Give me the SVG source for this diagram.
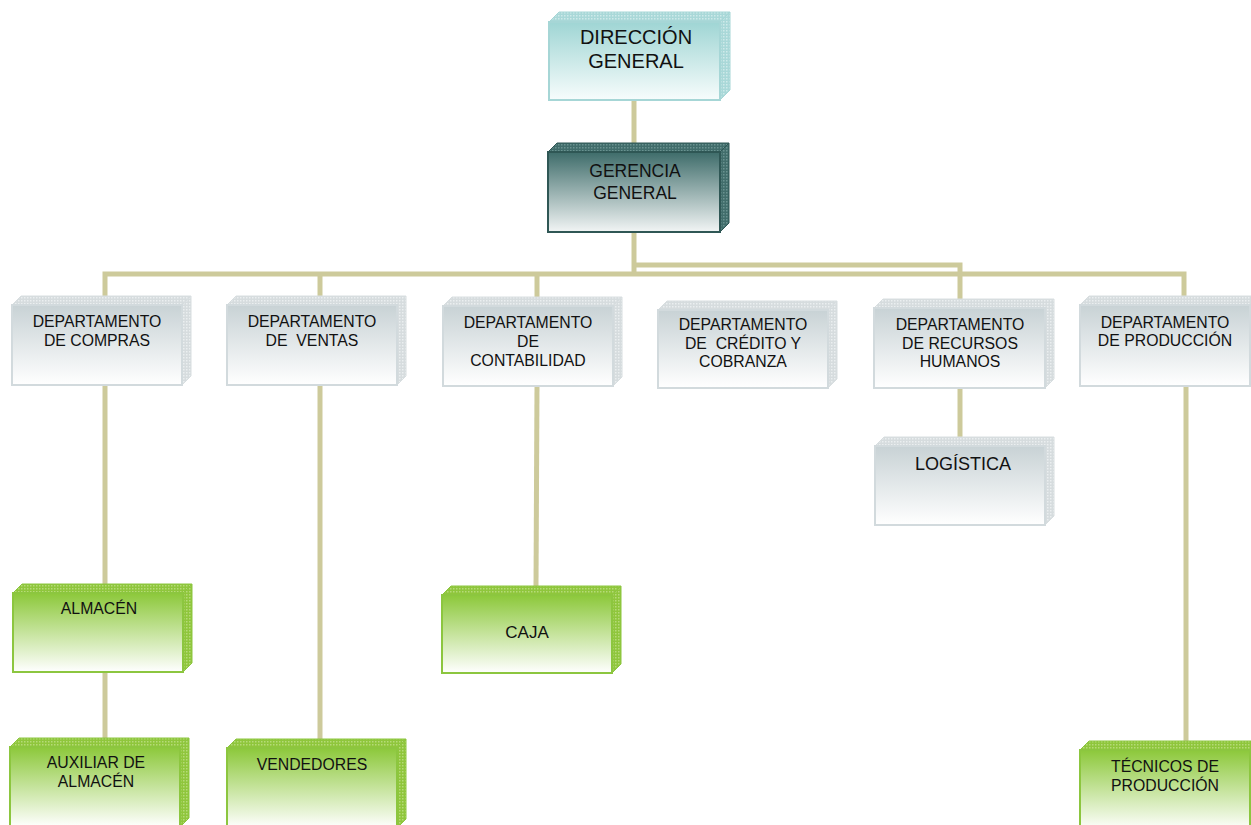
<svg xmlns="http://www.w3.org/2000/svg" width="1251" height="825" viewBox="0 0 1251 825">
<defs>
<linearGradient id="gCyan" x1="0" y1="0" x2="0" y2="1"><stop offset="0" stop-color="#9fd5d4"/><stop offset="1" stop-color="#f7fcfc"/></linearGradient>
<linearGradient id="gTeal" x1="0" y1="0" x2="0" y2="1"><stop offset="0" stop-color="#3e6c6a"/><stop offset="1" stop-color="#f2f5f5"/></linearGradient>
<linearGradient id="gGray" x1="0" y1="0" x2="0" y2="1"><stop offset="0" stop-color="#c8d2d5"/><stop offset="1" stop-color="#ffffff"/></linearGradient>
<linearGradient id="gGreen" x1="0" y1="0" x2="0" y2="1"><stop offset="0" stop-color="#8cc83a"/><stop offset="1" stop-color="#ffffff"/></linearGradient>
<pattern id="pCyan" width="3" height="3" patternUnits="userSpaceOnUse"><rect width="3" height="3" fill="#a9d8d8"/><rect width="1.5" height="1.5" fill="#cfeaea"/></pattern>
<pattern id="pTeal" width="3" height="3" patternUnits="userSpaceOnUse"><rect width="3" height="3" fill="#416d6b"/><rect width="1.5" height="1.5" fill="#6a9290"/></pattern>
<pattern id="pGray" width="3" height="3" patternUnits="userSpaceOnUse"><rect width="3" height="3" fill="#d6dcde"/><rect width="1.5" height="1.5" fill="#ebeff0"/></pattern>
<pattern id="pGreen" width="3" height="3" patternUnits="userSpaceOnUse"><rect width="3" height="3" fill="#8fc63c"/><rect width="1.5" height="1.5" fill="#b5db78"/></pattern>
<style>
.con{fill:none;stroke:#cdca9b;stroke-width:5;}
.cyan .f{fill:url(#gCyan);stroke:#a6d6d6;stroke-width:2;}
.cyan .b{fill:url(#pCyan);stroke:#a6d6d6;stroke-width:1;}
.teal .f{fill:url(#gTeal);stroke:#2f5755;stroke-width:2;}
.teal .b{fill:url(#pTeal);stroke:#2f5755;stroke-width:1;}
.gray .f{fill:url(#gGray);stroke:#d2dadd;stroke-width:2;}
.gray .b{fill:url(#pGray);stroke:#d8dee0;stroke-width:1;}
.green .f{fill:url(#gGreen);stroke:#8cc63f;stroke-width:2;}
.green .b{fill:url(#pGreen);stroke:#8cc63f;stroke-width:1;}
text{font-family:"Liberation Sans",Arial,sans-serif;fill:#111;text-anchor:middle;}
.t1{font-size:20px;}
.t2{font-size:17.5px;}
.td{font-size:15.8px;}
.tg{font-size:15.8px;}
.tl{font-size:18px;}
.tc{font-size:17px;}
</style>
</defs>
<rect width="1251" height="825" fill="#ffffff"/>
<g id="connectors">
<line class="con" x1="634" y1="100" x2="634" y2="153"/>
<line class="con" x1="634" y1="232" x2="634" y2="275"/>
<polyline class="con" points="105,305 105,274 1184,274 1184,305"/>
<polyline class="con" points="634,265 960,265 960,300"/>
<line class="con" x1="320" y1="274" x2="320" y2="305"/>
<line class="con" x1="537" y1="274" x2="537" y2="306"/>
<line class="con" x1="105" y1="385" x2="105" y2="585"/>
<line class="con" x1="105" y1="672" x2="105" y2="742"/>
<line class="con" x1="320" y1="385" x2="320" y2="742"/>
<line class="con" x1="537" y1="386" x2="536" y2="587"/>
<line class="con" x1="960" y1="388" x2="960" y2="438"/>
<line class="con" x1="1186" y1="387" x2="1186" y2="744"/>
</g>
<g id="n-direccion" class="cyan">
<polygon class="b" points="549,22 559,12 730,12 720,22"/>
<polygon class="b" points="720,22 730,12 730,90 720,100"/>
<rect class="f" x="549" y="22" width="171" height="78"/>
<text class="t1" x="636" y="44">DIRECCIÓN</text>
<text class="t1" x="636" y="68">GENERAL</text>
</g>
<g id="n-gerencia" class="teal">
<polygon class="b" points="548,152 557,143 729,143 720,152"/>
<polygon class="b" points="720,152 729,143 729,223 720,232"/>
<rect class="f" x="548" y="152" width="172" height="80"/>
<text class="t2" x="635" y="177">GERENCIA</text>
<text class="t2" x="635" y="199">GENERAL</text>
</g>
<g id="n-compras" class="gray">
<polygon class="b" points="12,305 21,296 191,296 182,305"/>
<polygon class="b" points="182,305 191,296 191,376 182,385"/>
<rect class="f" x="12" y="305" width="170" height="80"/>
<text class="td" x="97" y="327">DEPARTAMENTO</text>
<text class="td" x="97" y="346">DE COMPRAS</text>
</g>
<g id="n-ventas" class="gray">
<polygon class="b" points="227,305 236,296 406,296 397,305"/>
<polygon class="b" points="397,305 406,296 406,376 397,385"/>
<rect class="f" x="227" y="305" width="170" height="80"/>
<text class="td" x="312" y="327" xml:space="preserve">DEPARTAMENTO</text>
<text class="td" x="312" y="346" xml:space="preserve">DE  VENTAS</text>
</g>
<g id="n-contabilidad" class="gray">
<polygon class="b" points="443,306 452,297 622,297 613,306"/>
<polygon class="b" points="613,306 622,297 622,377 613,386"/>
<rect class="f" x="443" y="306" width="170" height="80"/>
<text class="td" x="528" y="328">DEPARTAMENTO</text>
<text class="td" x="528" y="347">DE</text>
<text class="td" x="528" y="366">CONTABILIDAD</text>
</g>
<g id="n-credito" class="gray">
<polygon class="b" points="658,310 667,301 837,301 828,310"/>
<polygon class="b" points="828,310 837,301 837,379 828,388"/>
<rect class="f" x="658" y="310" width="170" height="78"/>
<text class="td" x="743" y="330">DEPARTAMENTO</text>
<text class="td" x="743" y="349" xml:space="preserve">DE  CRÉDITO Y</text>
<text class="td" x="743" y="367">COBRANZA</text>
</g>
<g id="n-rrhh" class="gray">
<polygon class="b" points="874,308 883,299 1054,299 1045,308"/>
<polygon class="b" points="1045,308 1054,299 1054,379 1045,388"/>
<rect class="f" x="874" y="308" width="171" height="80"/>
<text class="td" x="960" y="330">DEPARTAMENTO</text>
<text class="td" x="960" y="349">DE RECURSOS</text>
<text class="td" x="960" y="367">HUMANOS</text>
</g>
<g id="n-produccion" class="gray">
<polygon class="b" points="1080,305 1089,296 1259,296 1250,305"/>
<polygon class="b" points="1250,305 1259,296 1259,377 1250,386"/>
<rect class="f" x="1080" y="305" width="170" height="81"/>
<text class="td" x="1165" y="328">DEPARTAMENTO</text>
<text class="td" x="1165" y="346">DE PRODUCCIÓN</text>
</g>
<g id="n-logistica" class="gray">
<polygon class="b" points="875,446 884,437 1054,437 1045,446"/>
<polygon class="b" points="1045,446 1054,437 1054,516 1045,525"/>
<rect class="f" x="875" y="446" width="170" height="79"/>
<text class="tl" x="963" y="470">LOGÍSTICA</text>
</g>
<g id="n-almacen" class="green">
<polygon class="b" points="13,593 22,584 192,584 183,593"/>
<polygon class="b" points="183,593 192,584 192,663 183,672"/>
<rect class="f" x="13" y="593" width="170" height="79"/>
<text class="tg" x="99" y="614">ALMACÉN</text>
</g>
<g id="n-caja" class="green">
<polygon class="b" points="442,595 451,586 621,586 612,595"/>
<polygon class="b" points="612,595 621,586 621,664 612,673"/>
<rect class="f" x="442" y="595" width="170" height="78"/>
<text class="tc" x="527" y="638">CAJA</text>
</g>
<g id="n-auxiliar" class="green">
<polygon class="b" points="10,747 19,738 189,738 180,747"/>
<polygon class="b" points="180,747 189,738 189,818 180,827"/>
<rect class="f" x="10" y="747" width="170" height="80"/>
<text class="tg" x="96" y="768">AUXILIAR DE</text>
<text class="tg" x="96" y="787">ALMACÉN</text>
</g>
<g id="n-vendedores" class="green">
<polygon class="b" points="227,748 236,739 406,739 397,748"/>
<polygon class="b" points="397,748 406,739 406,819 397,828"/>
<rect class="f" x="227" y="748" width="170" height="80"/>
<text class="tg" x="312" y="770">VENDEDORES</text>
</g>
<g id="n-tecnicos" class="green">
<polygon class="b" points="1080,750 1089,741 1259,741 1250,750"/>
<polygon class="b" points="1250,750 1259,741 1259,821 1250,830"/>
<rect class="f" x="1080" y="750" width="170" height="80"/>
<text class="tg" x="1165" y="772">TÉCNICOS DE</text>
<text class="tg" x="1165" y="791">PRODUCCIÓN</text>
</g>
</svg>
